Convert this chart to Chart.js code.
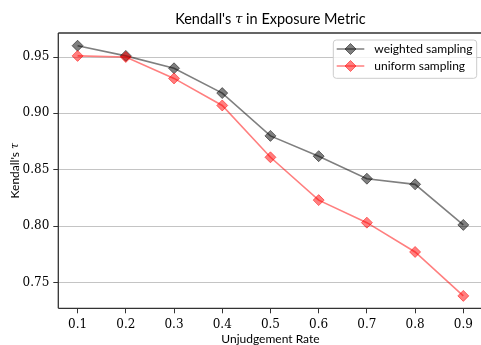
<!DOCTYPE html>
<html><head><meta charset="utf-8">
<script src="https://cdn.jsdelivr.net/npm/chart.js@4"></script>
<style>html,body{margin:0;padding:0;overflow:hidden;background:#fff}canvas{display:block}</style>
</head><body>
<canvas id="c" width="490" height="345" style="width:490px;height:345px"></canvas>
<script>
const unjudgementRate = [0.1, 0.2, 0.3, 0.4, 0.5, 0.6, 0.7, 0.8, 0.9];
const weightedSampling = [0.960, 0.951, 0.940, 0.918, 0.880, 0.862, 0.842, 0.837, 0.801];
const uniformSampling = [0.951, 0.950, 0.931, 0.907, 0.861, 0.823, 0.803, 0.777, 0.738];
const xTicks = [0.1, 0.2, 0.3, 0.4, 0.5, 0.6, 0.7, 0.8, 0.9];
const yTicks = [0.75, 0.80, 0.85, 0.90, 0.95];
const seriesNames = ['weighted sampling', 'uniform sampling'];
const seriesColors = ['rgba(0,0,0,0.5)', 'rgba(255,0,0,0.5)'];

const SANS = 'Lato, sans-serif';
const SERIF = '"DejaVu Serif", serif';

const framePlugin = {
  id: 'frame',
  afterDatasetsDraw(chart) {
    const {ctx, chartArea: a} = chart;
    ctx.save();
    ctx.strokeStyle = '#333333';
    ctx.lineWidth = 1.3;
    ctx.beginPath();
    ctx.moveTo(a.left, a.top); ctx.lineTo(a.right, a.top);
    ctx.moveTo(a.left, a.top); ctx.lineTo(a.left, a.bottom);
    ctx.moveTo(a.left, a.bottom); ctx.lineTo(a.right, a.bottom);
    ctx.moveTo(a.right, a.top); ctx.lineTo(a.right, a.bottom);
    ctx.stroke();
    ctx.restore();
  }
};

function drawMixed(ctx, parts, cx, cy) {
  let total = 0;
  parts.forEach(p => { ctx.font = p.font; p.w = ctx.measureText(p.t).width; total += p.w; });
  let x = cx - total / 2;
  parts.forEach(p => { ctx.font = p.font; ctx.fillText(p.t, x, cy); x += p.w; });
}

const textPlugin = {
  id: 'texts',
  afterDraw(chart) {
    const {ctx, chartArea: a} = chart;
    ctx.save();
    ctx.fillStyle = '#000';
    ctx.textBaseline = 'middle';
    ctx.textAlign = 'left';
    const cx = (a.left + a.right) / 2;
    drawMixed(ctx, [
      {t: "Kendall's ", font: '14.5px ' + SANS},
      {t: 'τ', font: 'italic 13.5px ' + SERIF},
      {t: ' in Exposure Metric', font: '14.5px ' + SANS}
    ], cx, 19.5);
    drawMixed(ctx, [{t: 'Unjudgement Rate', font: '12px ' + SANS}], cx, 339);
    ctx.translate(15, (a.top + a.bottom) / 2);
    ctx.rotate(-Math.PI / 2);
    drawMixed(ctx, [
      {t: "Kendall's ", font: '12px ' + SANS},
      {t: 'τ', font: 'italic 11px ' + SERIF}
    ], 0, 0);
    ctx.restore();

    // legend
    ctx.save();
    const lx = a.right - 149.3, ly = 40, lw = 143.4, lh = 38.3;
    ctx.fillStyle = 'rgba(255,255,255,0.8)';
    ctx.strokeStyle = '#cccccc';
    ctx.lineWidth = 1;
    ctx.beginPath();
    ctx.roundRect(lx, ly, lw, lh, 3);
    ctx.fill(); ctx.stroke();
    chart.data.datasets.forEach((ds, i) => {
      const y = 49 + i * 17;
      ctx.strokeStyle = ds.borderColor;
      ctx.lineWidth = 1.5;
      ctx.beginPath();
      ctx.moveTo(lx + 3.4, y); ctx.lineTo(lx + 31, y);
      ctx.stroke();
      ctx.fillStyle = ds.backgroundColor;
      ctx.lineWidth = 1;
      const mx = lx + 17.2, r = 5.5;
      ctx.beginPath();
      ctx.moveTo(mx - r, y); ctx.lineTo(mx, y - r); ctx.lineTo(mx + r, y); ctx.lineTo(mx, y + r); ctx.closePath();
      ctx.fill(); ctx.stroke();
      ctx.fillStyle = '#000';
      ctx.font = '12px ' + SANS;
      ctx.textBaseline = 'middle';
      ctx.textAlign = 'left';
      ctx.fillText(ds.label, lx + 41, y);
    });
    ctx.restore();
  }
};

function makeDataset(label, values, color, order) {
  return {
    label: label,
    data: unjudgementRate.map((x, i) => ({x: x, y: values[i]})),
    borderColor: color,
    backgroundColor: color,
    borderWidth: 1.6,
    pointStyle: 'rectRot',
    pointRadius: 5.5,
    pointHoverRadius: 5.5,
    pointBorderWidth: 1,
    pointBackgroundColor: color,
    pointBorderColor: color,
    tension: 0,
    order: order
  };
}

new Chart(document.getElementById('c'), {
  type: 'line',
  data: {
    datasets: [
      makeDataset(seriesNames[0], weightedSampling, seriesColors[0], 2),
      makeDataset(seriesNames[1], uniformSampling, seriesColors[1], 1)
    ]
  },
  options: {
    responsive: false,
    animation: false,
    devicePixelRatio: 1,
    events: [],
    layout: {padding: {left: 0, top: 33, right: 7.4, bottom: 0}},
    plugins: {legend: {display: false}, title: {display: false}, tooltip: {enabled: false}},
    scales: {
      x: {
        type: 'linear',
        min: 0.06, max: 0.94,
        afterBuildTicks: s => { s.ticks = xTicks.map(v => ({value: v})); },
        afterFit: s => { s.height = 36.7; },
        border: {display: false},
        grid: {drawOnChartArea: false, drawTicks: true, tickLength: 5, tickColor: '#333', tickWidth: 1},
        ticks: {color: '#000', padding: 4, maxRotation: 0, autoSkip: false,
          font: {family: SERIF, size: 12},
          callback: v => v.toFixed(1)}
      },
      y: {
        type: 'linear',
        min: 0.727, max: 0.9713,
        afterBuildTicks: s => { s.ticks = yTicks.map(v => ({value: v})); },
        afterFit: s => { s.width = 58.3; },
        border: {display: false},
        grid: {color: '#c4c4c4', lineWidth: 1, drawTicks: true, tickLength: 5, tickColor: '#333', tickWidth: 1},
        ticks: {color: '#000', padding: 4, autoSkip: false,
          font: {family: SERIF, size: 12},
          callback: v => v.toFixed(2)}
      }
    }
  },
  plugins: [framePlugin, textPlugin]
});
</script>
</body></html>
